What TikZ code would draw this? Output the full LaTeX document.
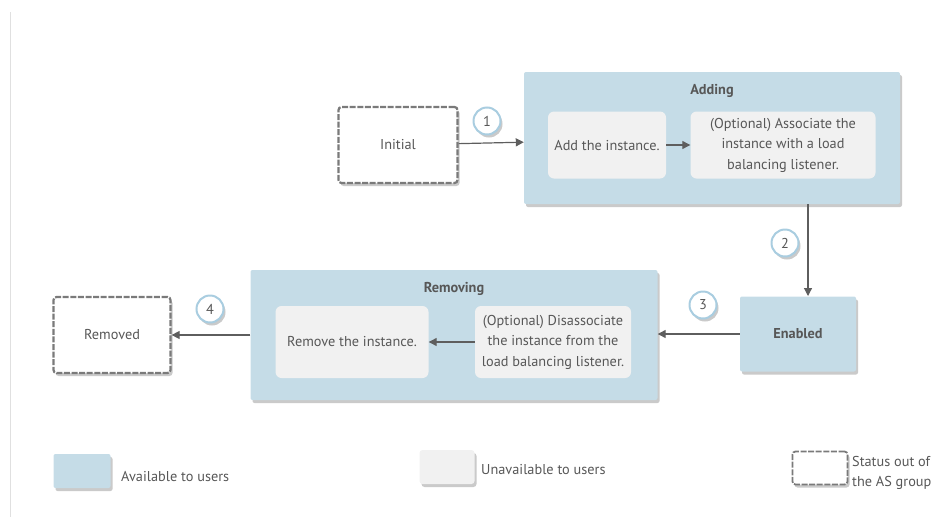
\documentclass[tikz,border=0pt]{standalone}
\usepackage{fontspec}
\setmainfont{PT Sans}
\usetikzlibrary{shadows,arrows.meta}
\definecolor{availblue}{HTML}{C5DCE7}
\definecolor{unavailgray}{HTML}{F1F1F1}
\definecolor{txtgray}{HTML}{575757}
\definecolor{linegray}{HTML}{5E5E5E}
\definecolor{dashgray}{HTML}{7A7A7A}
\definecolor{ringblue}{HTML}{A9CDE0}
\begin{document}
\begin{tikzpicture}[x=1pt, y=-1pt,
    every node/.style={font=\fontsize{14.3}{20.5}\selectfont, text=txtgray, align=center, inner sep=0pt},
    softshadow/.style={drop shadow={shadow xshift=2pt, shadow yshift=-3pt, opacity=0.35, fill=black!60}},
    phase/.style={fill=availblue, rounded corners=2pt, softshadow},
    task/.style={fill=unavailgray, rounded corners=6pt},
    outbox/.style={draw=dashgray, fill=white, line width=2.2pt, dash pattern=on 6pt off 1.6pt, rounded corners=3pt, softshadow},
    title/.style={font=\bfseries\fontsize{14.3}{17}\selectfont, anchor=north, yshift=-12pt},
    numcircle/.style={circle, draw=ringblue, line width=2pt, fill=white, minimum size=27pt, softshadow},
    flow/.style={draw=linegray, line width=1.2pt, -{Triangle[length=8pt, width=8pt]}}]
  \useasboundingbox (0,0) rectangle (952,517);
  \draw[black!12, line width=1pt] (10,12) -- (10,517);
  % states
  \node[outbox, minimum width=119, minimum height=76] (initial) at (398,145) {Initial};
  \node[phase, minimum width=376, minimum height=132, label={[title]north:Adding}] (adding) at (712,138) {};
  \node[task, minimum width=118, minimum height=67] (addinst) at (607,145) {Add the instance.};
  \node[task, minimum width=185, minimum height=67] (assoc) at (783,145) {(Optional) Associate the\\instance with a load\\balancing listener.};
  \node[phase, minimum width=116, minimum height=75, font=\bfseries\fontsize{14.3}{17}\selectfont] (enabled) at (798,334) {Enabled};
  \node[phase, minimum width=407, minimum height=130, label={[title]north:Removing}] (removing) at (454,335) {};
  \node[task, minimum width=153, minimum height=72] (reminst) at (352,342) {Remove the instance.};
  \node[task, minimum width=156, minimum height=72] (disassoc) at (553,342) {(Optional) Disassociate\\the instance from the\\load balancing listener.};
  \node[outbox, minimum width=117, minimum height=76] (removed) at (112,335) {Removed};
  % transitions
  \coordinate (down) at (808,204);
  \coordinate (enabledtop) at (808,296);
  \draw[flow] (initial) -- (adding);
  \draw[flow] (addinst) -- (assoc);
  \draw[flow] (down) -- (enabledtop);
  \draw[flow] (enabled) -- (removing.east |- enabled);
  \draw[flow] (disassoc) -- (reminst);
  \draw[flow] (removing.west |- removed) -- (removed);
  \foreach \n/\p in {1/{487,121}, 2/{785,243}, 3/{703,305}, 4/{210,309}}
    \node[numcircle] (num\n) at (\p) {\n};
  % legend
  \node[phase, minimum width=57, minimum height=34] (keyavail) at (82,471) {};
  \node[anchor=west] (keyavailtxt) at (121,476) {Available to users};
  \node[task, rounded corners=3pt, softshadow, minimum width=55, minimum height=34] (keyunavail) at (447,467) {};
  \node[anchor=west] (keyunavailtxt) at (481,470) {Unavailable to users};
  \node[outbox, line width=1.8pt, minimum width=55, minimum height=33] (keyout) at (820,468) {};
  \node[anchor=west, align=left] (keyouttxt) at (852,473) {Status out of\\the AS group};
\end{tikzpicture}
\end{document}
